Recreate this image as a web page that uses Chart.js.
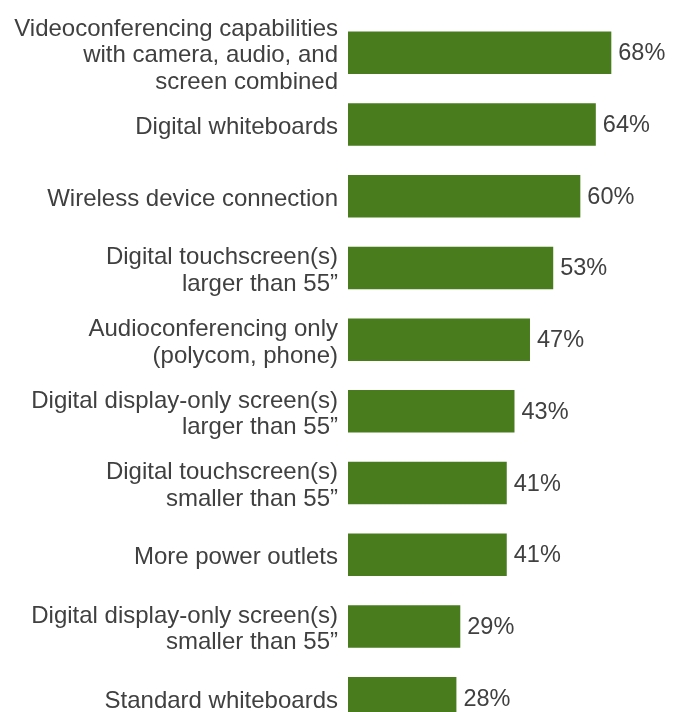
<!DOCTYPE html>
<html lang="en">
<head>
<meta charset="utf-8">
<title>Meeting room features</title>
<script src="https://cdn.jsdelivr.net/npm/chart.js@4.4.0/dist/chart.umd.min.js"></script>
<style>
  html, body { margin: 0; padding: 0; background: #fff; overflow: hidden; }
  #wrap { position: relative; width: 681px; height: 734px; }
</style>
</head>
<body>
<div id="wrap"><canvas id="myChart"></canvas></div>
<script>
// data
const features = [
  ['Videoconferencing capabilities', 'with camera, audio, and', 'screen combined'],
  'Digital whiteboards',
  'Wireless device connection',
  ['Digital touchscreen(s)', 'larger than 55\u201d'],
  ['Audioconferencing only', '(polycom, phone)'],
  ['Digital display-only screen(s)', 'larger than 55\u201d'],
  ['Digital touchscreen(s)', 'smaller than 55\u201d'],
  'More power outlets',
  ['Digital display-only screen(s)', 'smaller than 55\u201d'],
  'Standard whiteboards'
];
const shares = [68, 64, 60, 53, 47, 43, 41, 41, 29, 28];

const textColor = '#404040';
const barColor = '#487c1c';

// draws the "68%" labels to the right of each bar
const valueLabels = {
  id: 'valueLabels',
  afterDatasetsDraw(chart) {
    const ctx = chart.ctx;
    const meta = chart.getDatasetMeta(0);
    ctx.save();
    ctx.font = '23.5px "Liberation Sans", Arial, sans-serif';
    ctx.fillStyle = textColor;
    ctx.textAlign = 'left';
    ctx.textBaseline = 'middle';
    meta.data.forEach((bar, i) => {
      ctx.fillText(shares[i] + '%', bar.x + 7, bar.y + 1);
    });
    ctx.restore();
  }
};

const config = {
  type: 'bar',
  data: {
    labels: features,
    datasets: [{
      data: shares,
      backgroundColor: barColor,
      borderWidth: 0,
      barPercentage: 0.593,
      categoryPercentage: 1
    }]
  },
  options: {
    indexAxis: 'y',
    responsive: true,
    maintainAspectRatio: false,
    animation: false,
    layout: { padding: { top: 17, right: 0, bottom: 0, left: 0 } },
    scales: {
      x: { display: false, min: 0, max: 86 },
      y: {
        grid: { display: false, drawTicks: false },
        border: { display: false },
        afterFit: (axis) => {
          axis.width = 348;
          axis.paddingTop = 0;
          axis.paddingBottom = 0;
        },
        ticks: {
          autoSkip: false,
          padding: 10,
          labelOffset: 3,
          color: textColor,
          font: { family: '"Liberation Sans", Arial, sans-serif', size: 24, lineHeight: 1.11 }
        }
      }
    },
    plugins: {
      legend: { display: false },
      tooltip: { enabled: false }
    }
  },
  plugins: [valueLabels]
};

new Chart(document.getElementById('myChart'), config);
</script>
</body>
</html>
